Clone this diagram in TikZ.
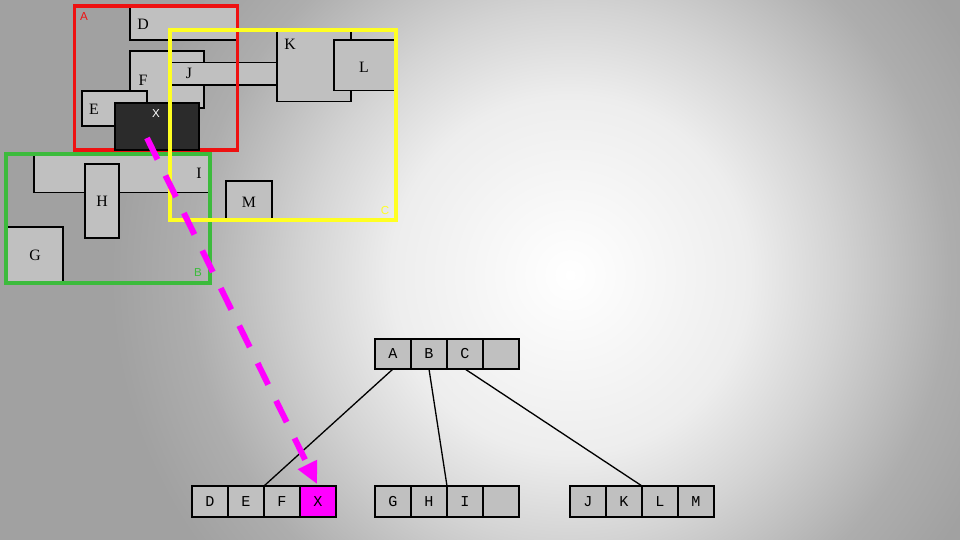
\documentclass[tikz,border=0pt]{standalone}
\usepackage{fontspec}
\setmainfont{Liberation Serif}
\newfontfamily\monofam{Liberation Mono}
\newfontfamily\sansfam{Liberation Sans}
\usetikzlibrary{arrows.meta}
\definecolor{bgout}{gray}{0.63}
\definecolor{bgb}{gray}{0.93}
\definecolor{bgc}{gray}{0.83}
\definecolor{bgd}{gray}{0.68}
\definecolor{silverc}{HTML}{C0C0C0}
\definecolor{darkbox}{HTML}{2B2B2B}
\definecolor{redb}{HTML}{EE1111}
\definecolor{greenb}{HTML}{3CBB3C}
\definecolor{yellowb}{HTML}{FFFF22}
\definecolor{magc}{HTML}{FF00FF}
\pgfdeclareradialshading{bgshade}{\pgfpointorigin}{color(0bp)=(white); color(6.4bp)=(bgb); color(9.5bp)=(bgc); color(13.6bp)=(bgd); color(16.5bp)=(bgout); color(50bp)=(bgout)}
\begin{document}
\begin{tikzpicture}[x=0.02cm,y=-0.02cm,
  box/.style={fill=silverc, draw=black, line width=1.13pt},
  region/.style={line width=2.27pt},
  lbl/.style={font=\fontsize{9}{10}\selectfont, inner sep=0},
  rlbl/.style={font=\sansfam\fontsize{6.6}{7}\selectfont, inner sep=0},
  cell/.style={draw, fill=silverc, line width=1.13pt, minimum width=0.72cm, minimum height=0.6cm, inner sep=0, outer sep=0, font=\monofam\fontsize{8.6}{10}\selectfont},
  leafcell/.style={cell, minimum height=0.62cm},
  link/.style={line width=0.75pt},
  pointer/.style={draw=magc, line width=3.4pt, dash pattern=on 13.6pt off 10.2pt, -{Triangle[length=0.44cm,width=0.4cm]}}]
\useasboundingbox (0,0) rectangle (960,540);
\begin{scope}
\clip (0,0) rectangle (960,540);
\fill[bgout] (0,0) rectangle (960,540);
\shade[shading=bgshade] (570,275) circle (700);
\end{scope}
% boxes
\filldraw[box] (130.3,6.3) rectangle (237.5,39.7);
\filldraw[box] (130.3,51) rectangle (203.7,108);
\filldraw[box] (170.3,62.5) rectangle (277,84.8);
\filldraw[box] (277,29.7) rectangle (351,101.5);
\filldraw[box] (334,40.2) rectangle (396,90.5);
\filldraw[box] (82,90.8) rectangle (147,125.8);
\filldraw[box] (34,153.7) rectangle (210,192.5);
\filldraw[box] (85,164) rectangle (119,238);
\filldraw[box] (6,227) rectangle (63,283);
\filldraw[box] (226,181) rectangle (272,220);
\draw[region, draw=redb] (74.5,6.3) rectangle (237.5,149.7);
\filldraw[box, fill=darkbox] (115,103) rectangle (199,150);
\draw[region, draw=greenb] (6,153.7) rectangle (210,283);
\draw[region, draw=yellowb] (170.3,29.7) rectangle (396,220);
% labels
\node[lbl] (tD) at (143,24) {D};
\node[lbl] (tF) at (143,80) {F};
\node[lbl] (tJ) at (189,73) {J};
\node[lbl] (tK) at (290,44) {K};
\node[lbl] (tL) at (364,67) {L};
\node[lbl] (tE) at (94,109) {E};
\node[rlbl, text=white] (tX) at (156,114) {X};
\node[lbl] (tI) at (199,173) {I};
\node[lbl] (tH) at (102,201) {H};
\node[lbl] (tG) at (35,255) {G};
\node[lbl] (tM) at (249,202) {M};
\node[rlbl, text=redb] (rA) at (84,17) {A};
\node[rlbl, text=yellowb] (rC) at (385,211) {C};
\node[rlbl, text=greenb] (rB) at (198,273) {B};
% tree
\node[cell] (nA) at (393,354) {A};
\node[cell] (nB) at (429,354) {B};
\node[cell] (nC) at (465,354) {C};
\node[cell] (nE) at (501,354) {};
\node[leafcell] (lD) at (210,501.5) {D};
\node[leafcell] (lE) at (246,501.5) {E};
\node[leafcell] (lF) at (282,501.5) {F};
\node[leafcell, fill=magc] (lX) at (318,501.5) {X};
\node[leafcell] (lG) at (393,501.5) {G};
\node[leafcell] (lH) at (429,501.5) {H};
\node[leafcell] (lI) at (465,501.5) {I};
\node[leafcell] (lN) at (501,501.5) {};
\node[leafcell] (lJ) at (588,501.5) {J};
\node[leafcell] (lK) at (624,501.5) {K};
\node[leafcell] (lL) at (660,501.5) {L};
\node[leafcell] (lM) at (696,501.5) {M};
\draw[link] (nA.south) -- (lE.north east);
\draw[link] (nB.south) -- (lH.north east);
\draw[link] (nC.south) -- (lK.north east);
% pointer
\coordinate (pstart) at (147,138);
\draw[pointer, shorten >=0.04cm] (pstart) -- (lX.north);
\end{tikzpicture}
\end{document}
